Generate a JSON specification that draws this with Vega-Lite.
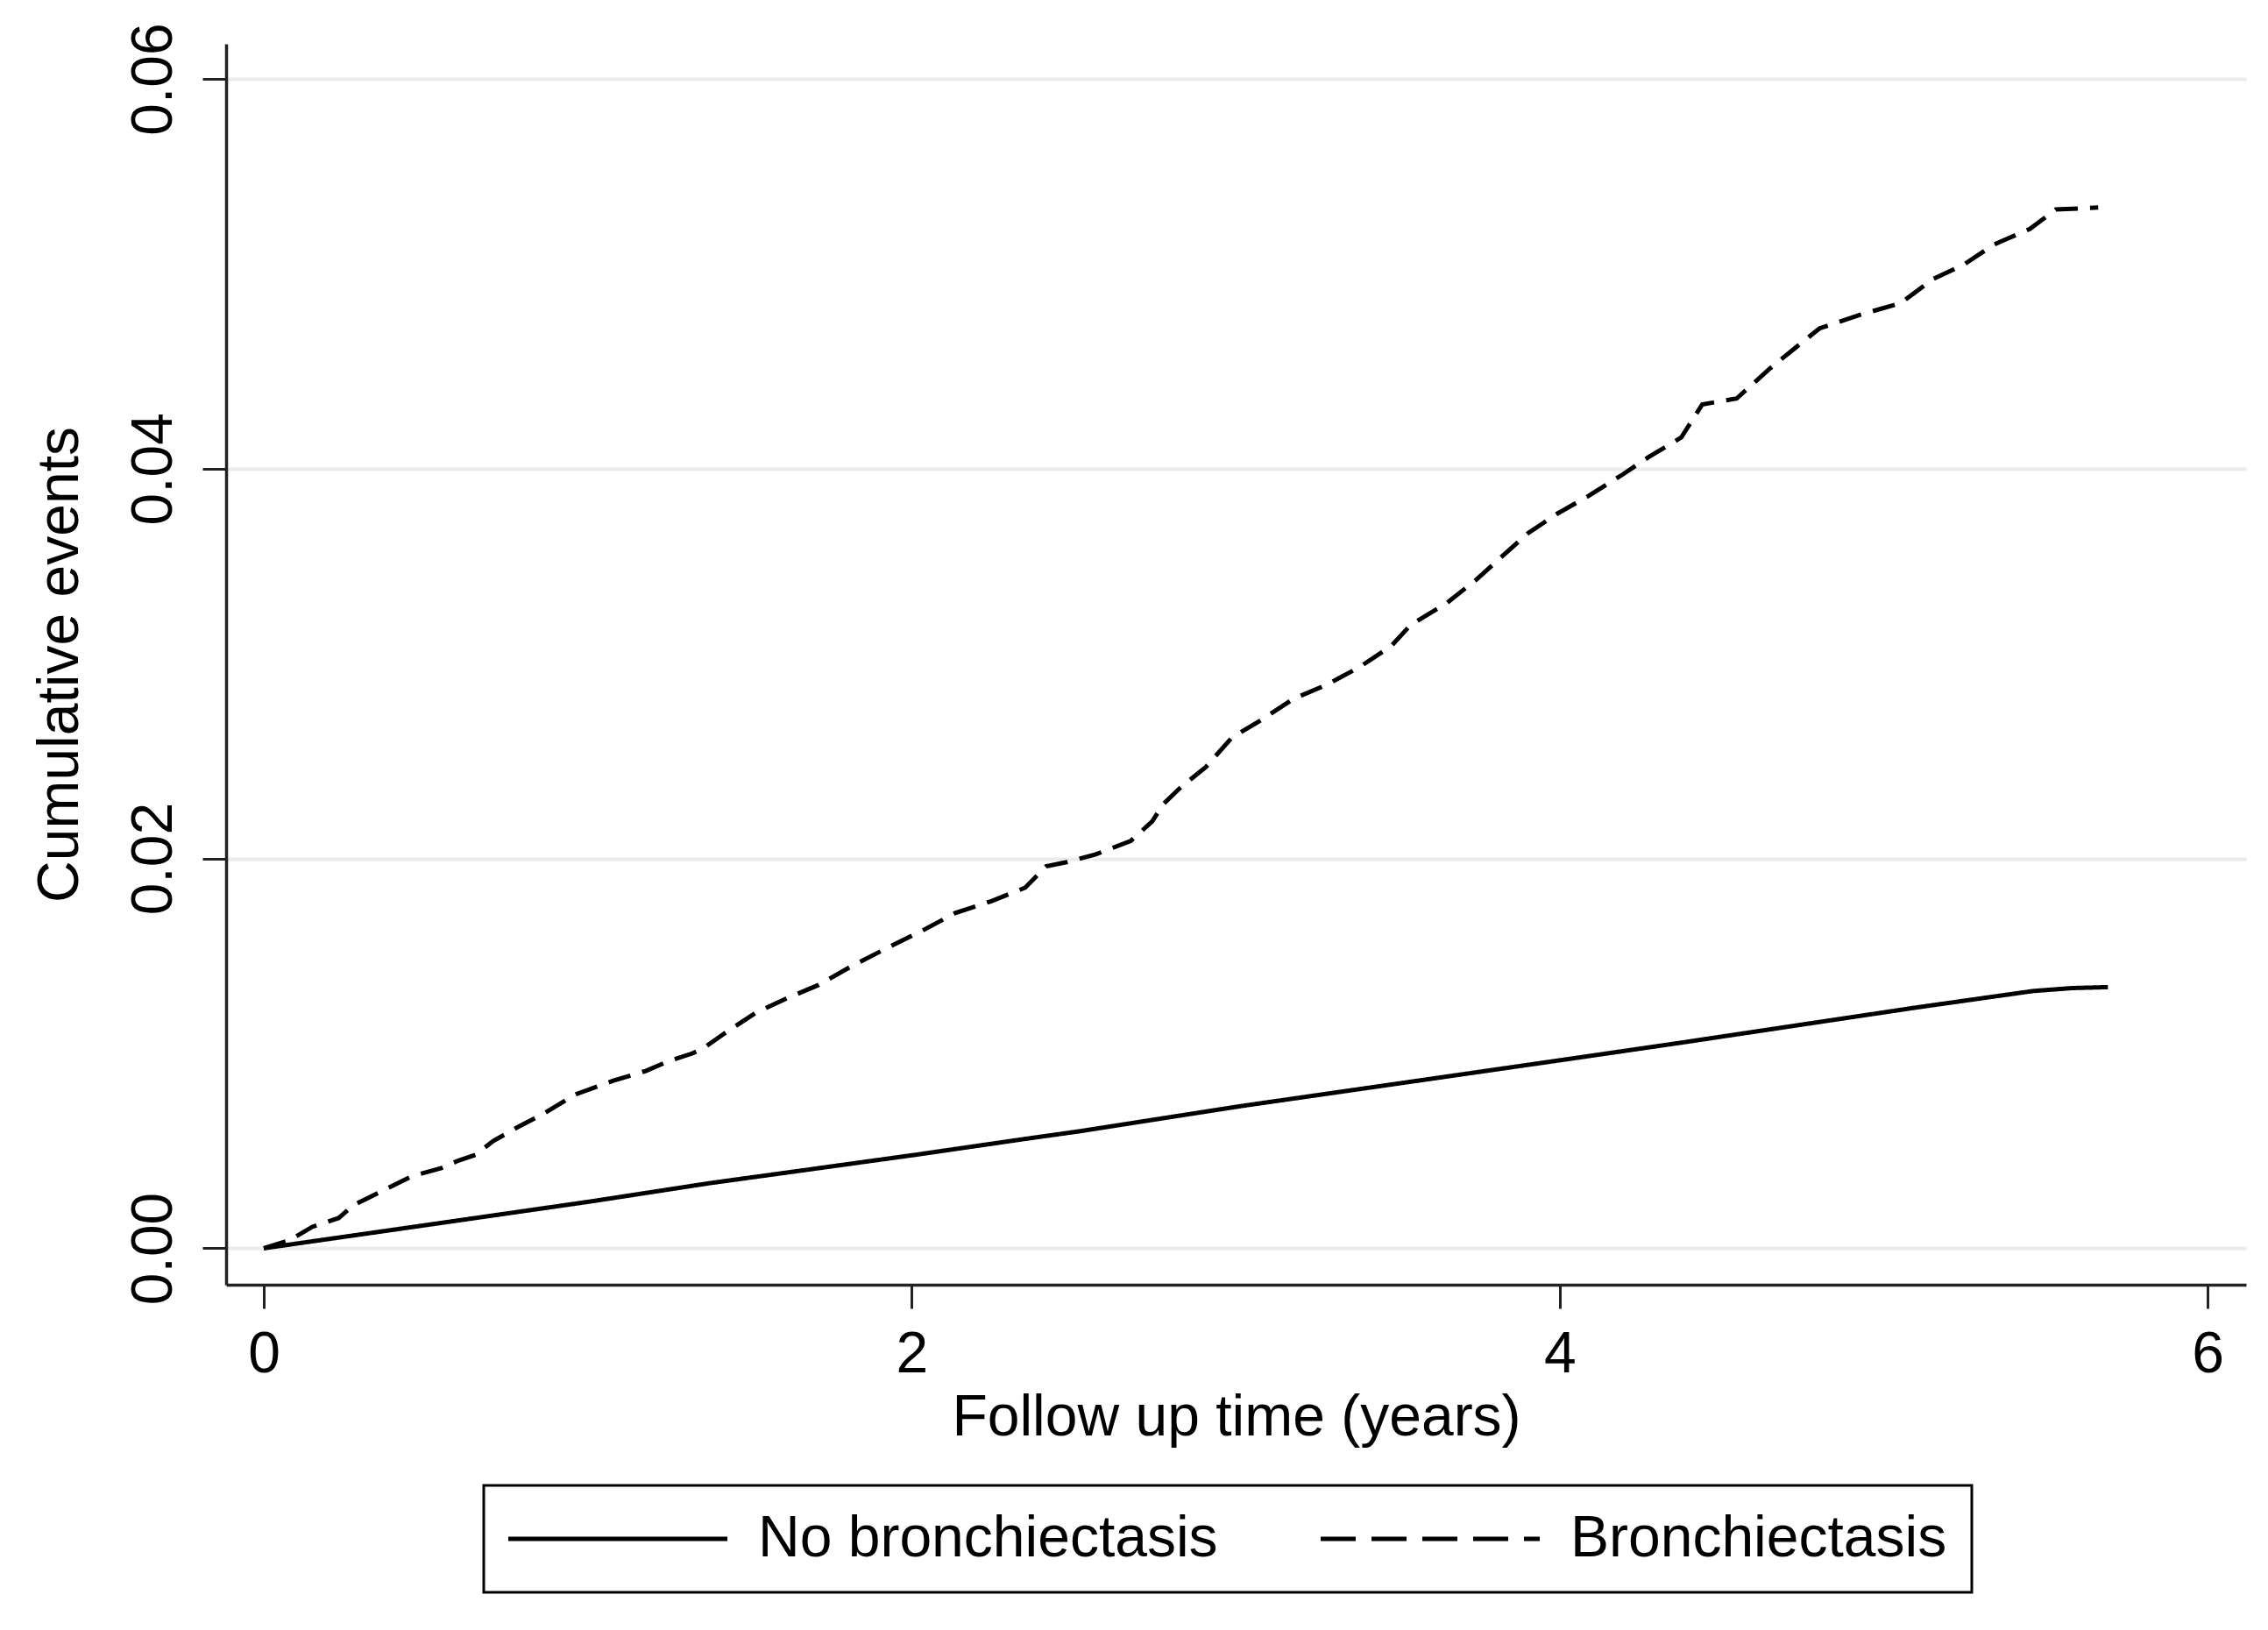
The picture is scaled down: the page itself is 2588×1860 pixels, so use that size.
{
  "$schema": "https://vega.github.io/schema/vega-lite/v6.json",
  "width": 2305,
  "height": 1416,
  "autosize": {"type": "none"},
  "padding": {"left": 258, "top": 50, "right": 25, "bottom": 394},
  "background": "white",
  "config": {
    "font": "Liberation Sans",
    "view": {"stroke": null}
  },
  "data": {
    "values": [
      {"group": "No bronchiectasis", "time": 0, "events": 0},
      {"group": "No bronchiectasis", "time": 0.505, "events": 0.0012},
      {"group": "No bronchiectasis", "time": 1.008, "events": 0.0024},
      {"group": "No bronchiectasis", "time": 1.38, "events": 0.00335},
      {"group": "No bronchiectasis", "time": 1.621, "events": 0.0039},
      {"group": "No bronchiectasis", "time": 2.013, "events": 0.0048},
      {"group": "No bronchiectasis", "time": 2.345, "events": 0.0056},
      {"group": "No bronchiectasis", "time": 2.516, "events": 0.006},
      {"group": "No bronchiectasis", "time": 3.018, "events": 0.0073},
      {"group": "No bronchiectasis", "time": 3.521, "events": 0.0085},
      {"group": "No bronchiectasis", "time": 4.023, "events": 0.0097},
      {"group": "No bronchiectasis", "time": 4.375, "events": 0.01055},
      {"group": "No bronchiectasis", "time": 4.737, "events": 0.01145},
      {"group": "No bronchiectasis", "time": 5.099, "events": 0.01235},
      {"group": "No bronchiectasis", "time": 5.461, "events": 0.0132},
      {"group": "No bronchiectasis", "time": 5.581, "events": 0.01335},
      {"group": "No bronchiectasis", "time": 5.692, "events": 0.0134},
      {"group": "Bronchiectasis", "time": 0, "events": 0},
      {"group": "Bronchiectasis", "time": 0.078, "events": 0.0004},
      {"group": "Bronchiectasis", "time": 0.15, "events": 0.0011},
      {"group": "Bronchiectasis", "time": 0.231, "events": 0.00155},
      {"group": "Bronchiectasis", "time": 0.276, "events": 0.0022},
      {"group": "Bronchiectasis", "time": 0.348, "events": 0.0028},
      {"group": "Bronchiectasis", "time": 0.457, "events": 0.0037},
      {"group": "Bronchiectasis", "time": 0.546, "events": 0.0041},
      {"group": "Bronchiectasis", "time": 0.601, "events": 0.0045},
      {"group": "Bronchiectasis", "time": 0.654, "events": 0.0048},
      {"group": "Bronchiectasis", "time": 0.708, "events": 0.0055},
      {"group": "Bronchiectasis", "time": 0.782, "events": 0.0062},
      {"group": "Bronchiectasis", "time": 0.863, "events": 0.0069},
      {"group": "Bronchiectasis", "time": 0.963, "events": 0.0079},
      {"group": "Bronchiectasis", "time": 1.079, "events": 0.0086},
      {"group": "Bronchiectasis", "time": 1.179, "events": 0.0091},
      {"group": "Bronchiectasis", "time": 1.249, "events": 0.0096},
      {"group": "Bronchiectasis", "time": 1.323, "events": 0.01},
      {"group": "Bronchiectasis", "time": 1.36, "events": 0.0103},
      {"group": "Bronchiectasis", "time": 1.42, "events": 0.011},
      {"group": "Bronchiectasis", "time": 1.52, "events": 0.0121},
      {"group": "Bronchiectasis", "time": 1.611, "events": 0.0128},
      {"group": "Bronchiectasis", "time": 1.711, "events": 0.0135},
      {"group": "Bronchiectasis", "time": 1.817, "events": 0.0145},
      {"group": "Bronchiectasis", "time": 1.923, "events": 0.0154},
      {"group": "Bronchiectasis", "time": 2.033, "events": 0.0163},
      {"group": "Bronchiectasis", "time": 2.134, "events": 0.0172},
      {"group": "Bronchiectasis", "time": 2.244, "events": 0.0178},
      {"group": "Bronchiectasis", "time": 2.35, "events": 0.0185},
      {"group": "Bronchiectasis", "time": 2.415, "events": 0.0196},
      {"group": "Bronchiectasis", "time": 2.475, "events": 0.0198},
      {"group": "Bronchiectasis", "time": 2.566, "events": 0.0202},
      {"group": "Bronchiectasis", "time": 2.676, "events": 0.0209},
      {"group": "Bronchiectasis", "time": 2.742, "events": 0.0219},
      {"group": "Bronchiectasis", "time": 2.777, "events": 0.0228},
      {"group": "Bronchiectasis", "time": 2.827, "events": 0.0236},
      {"group": "Bronchiectasis", "time": 2.908, "events": 0.0247},
      {"group": "Bronchiectasis", "time": 2.988, "events": 0.0262},
      {"group": "Bronchiectasis", "time": 3.078, "events": 0.0271},
      {"group": "Bronchiectasis", "time": 3.179, "events": 0.0282},
      {"group": "Bronchiectasis", "time": 3.279, "events": 0.0289},
      {"group": "Bronchiectasis", "time": 3.38, "events": 0.0298},
      {"group": "Bronchiectasis", "time": 3.48, "events": 0.0309},
      {"group": "Bronchiectasis", "time": 3.541, "events": 0.032},
      {"group": "Bronchiectasis", "time": 3.651, "events": 0.0331},
      {"group": "Bronchiectasis", "time": 3.742, "events": 0.0343},
      {"group": "Bronchiectasis", "time": 3.822, "events": 0.0355},
      {"group": "Bronchiectasis", "time": 3.903, "events": 0.0367},
      {"group": "Bronchiectasis", "time": 3.993, "events": 0.0377},
      {"group": "Bronchiectasis", "time": 4.089, "events": 0.0386},
      {"group": "Bronchiectasis", "time": 4.194, "events": 0.0397},
      {"group": "Bronchiectasis", "time": 4.275, "events": 0.0406},
      {"group": "Bronchiectasis", "time": 4.375, "events": 0.0416},
      {"group": "Bronchiectasis", "time": 4.44, "events": 0.0433},
      {"group": "Bronchiectasis", "time": 4.546, "events": 0.0436},
      {"group": "Bronchiectasis", "time": 4.646, "events": 0.0451},
      {"group": "Bronchiectasis", "time": 4.727, "events": 0.0462},
      {"group": "Bronchiectasis", "time": 4.802, "events": 0.0472},
      {"group": "Bronchiectasis", "time": 4.928, "events": 0.0479},
      {"group": "Bronchiectasis", "time": 5.053, "events": 0.0485},
      {"group": "Bronchiectasis", "time": 5.149, "events": 0.0497},
      {"group": "Bronchiectasis", "time": 5.25, "events": 0.0505},
      {"group": "Bronchiectasis", "time": 5.34, "events": 0.0515},
      {"group": "Bronchiectasis", "time": 5.451, "events": 0.0523},
      {"group": "Bronchiectasis", "time": 5.531, "events": 0.0533},
      {"group": "Bronchiectasis", "time": 5.662, "events": 0.0534}
    ]
  },
  "encoding": {
    "x": {
      "field": "time",
      "type": "quantitative",
      "scale": {"domain": [-0.1163, 6.1185], "nice": false, "zero": false},
      "axis": {
        "values": [0, 2, 4, 6],
        "format": "d",
        "grid": false,
        "domainColor": "#222222",
        "domainWidth": 3.5,
        "tickColor": "#222222",
        "tickWidth": 3,
        "tickSize": 27,
        "labelFontSize": 66,
        "labelColor": "black",
        "labelPadding": 20,
        "labelFlush": false,
        "labelOverlap": false,
        "title": "Follow up time (years)",
        "titleFontSize": 66,
        "titleFontWeight": "normal",
        "titleColor": "black",
        "titlePadding": 7
      }
    },
    "y": {
      "field": "events",
      "type": "quantitative",
      "scale": {"domain": [-0.00187, 0.0618], "nice": false, "zero": false},
      "axis": {
        "values": [0, 0.02, 0.04, 0.06],
        "format": ".2f",
        "grid": true,
        "gridColor": "#ebebeb",
        "gridWidth": 4,
        "domainColor": "#222222",
        "domainWidth": 3.5,
        "tickColor": "#222222",
        "tickWidth": 3,
        "tickSize": 27,
        "labelFontSize": 66,
        "labelColor": "black",
        "labelAngle": 270,
        "labelAlign": "center",
        "labelBaseline": "bottom",
        "labelPadding": 22,
        "labelFlush": false,
        "labelOverlap": false,
        "title": "Cumulative events",
        "titleFontSize": 66,
        "titleFontWeight": "normal",
        "titleColor": "black",
        "titlePadding": 40
      }
    }
  },
  "layer": [
    {
      "mark": {"type": "line", "color": "black", "strokeWidth": 5, "opacity": 0},
      "encoding": {
        "strokeDash": {
          "field": "group",
          "type": "nominal",
          "scale": {
            "domain": ["No bronchiectasis", "Bronchiectasis"],
            "range": [[1, 0], [40, 18]]
          },
          "legend": {
            "title": null,
            "orient": "none",
            "legendX": 294,
            "legendY": 1645,
            "direction": "horizontal",
            "symbolType": "M0,0H100",
            "symbolSize": 25,
            "symbolStrokeWidth": 5,
            "symbolStrokeColor": "black",
            "symbolOpacity": 1,
            "symbolOffset": -33,
            "labelFontSize": 66,
            "labelColor": "black",
            "labelOffset": 252,
            "labelLimit": 0,
            "labelExpr": "datum.label + '\u00a0'",
            "columnPadding": 107,
            "padding": 28,
            "strokeColor": "black",
            "cornerRadius": 0,
            "encode": {"legend": {"update": {"strokeWidth": {"value": 3}}}}
          }
        }
      }
    },
    {
      "mark": {"type": "line", "color": "black", "strokeWidth": 5, "strokeCap": "butt"},
      "encoding": {
        "strokeDash": {
          "field": "group",
          "type": "nominal",
          "scale": {
            "domain": ["No bronchiectasis", "Bronchiectasis"],
            "range": [[1, 0], [26, 14]]
          },
          "legend": null
        }
      }
    }
  ],
  "resolve": {
    "scale": {"strokeDash": "independent"},
    "legend": {"strokeDash": "independent"}
  }
}
